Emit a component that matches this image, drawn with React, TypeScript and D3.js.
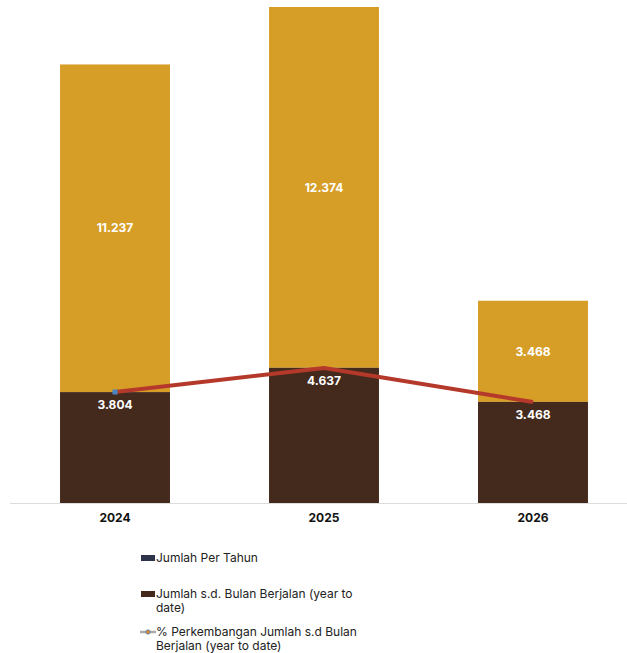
import React from "react";
import * as d3 from "d3";

const categories = ["2024", "2025", "2026"];
const ytdValues = [3804, 4637, 3468];
const restValues = [11237, 12374, 3468];
const pctValues = [-11.3, 21.9, -25.2];
const legendLabels = [
  ["Jumlah Per Tahun"],
  ["Jumlah s.d. Bulan Berjalan (year to", "date)"],
  ["% Perkembangan Jumlah s.d Bulan", "Berjalan (year to date)"],
];

const W = 627;
const H = 653;
const FONT = "Inter, 'Noto Sans', sans-serif";
const fmt = (v: number) => d3.format(",")(v).replace(/,/g, ".");

export default function App() {
  const x = d3.scaleBand<string>().domain(categories).range([10.5, 637.5]).paddingInner(0.474).paddingOuter(0.237);
  const y = d3.scaleLinear().domain([0, 17011]).range([503, 7]);
  const y2 = d3.scaleLinear().domain([-165, 522]).range([503, 7]);
  const bw = x.bandwidth();
  const cx = (c: string) => (x(c) as number) + bw / 2;
  const line = d3
    .line<number>()
    .x((_, i) => cx(categories[i]))
    .y((d) => y2(d));

  return (
    <svg width={W} height={H} style={{ position: "fixed", left: 0, top: 0, fontFamily: FONT }}>
      <rect width={W} height={H} fill="#fff" />
      {categories.map((c, i) => {
        const x0 = x(c) as number;
        const yT = y(ytdValues[i]);
        const yTop = y(ytdValues[i] + restValues[i]);
        return (
          <g key={c}>
            <rect x={x0} y={yTop} width={bw} height={yT - yTop} fill="#D69E27" />
            <rect x={x0} y={yT} width={bw} height={y(0) - yT} fill="#442A1D" />
            <text x={cx(c)} y={(yT + yTop) / 2} dy="0.35em" textAnchor="middle" fill="#fff" fontSize={12} fontWeight={700}>
              {fmt(restValues[i])}
            </text>
            <text x={cx(c)} y={yT + 13} dy="0.35em" textAnchor="middle" fill="#fff" fontSize={12} fontWeight={700}>
              {fmt(ytdValues[i])}
            </text>
          </g>
        );
      })}
      <line x1={10} x2={W} y1={503.5} y2={503.5} stroke="#ddd" strokeWidth={1} />
      <path d={line(pctValues) as string} fill="none" stroke="#B5392A" strokeWidth={4} strokeLinejoin="round" />
      <rect x={cx(categories[0]) - 2.5} y={y2(pctValues[0]) - 2.5} width={5} height={5} fill="#4A86C5" />
      {categories.map((c) => (
        <text key={c} x={cx(c)} y={518} dy="0.35em" textAnchor="middle" fill="#111" fontSize={12} fontWeight={700}>
          {c}
        </text>
      ))}
      <g fontSize={12} fill="#222">
        <rect x={141} y={555} width={14} height={6} fill="#2F3349" />
        <text x={156} y={558} dy="0.35em">{legendLabels[0][0]}</text>
        <rect x={141} y={591} width={14} height={6} fill="#442A1D" />
        {legendLabels[1].map((t, i) => (
          <text key={t} x={156} y={594 + i * 14} dy="0.35em">{t}</text>
        ))}
        <line x1={140} x2={156} y1={632} y2={632} stroke="#aaa" strokeWidth={2.5} />
        <circle cx={148} cy={632} r={2.2} fill="#E0892F" stroke="#4A86C5" strokeWidth={0.8} />
        {legendLabels[2].map((t, i) => (
          <text key={t} x={156} y={632 + i * 14} dy="0.35em">{t}</text>
        ))}
      </g>
    </svg>
  );
}
